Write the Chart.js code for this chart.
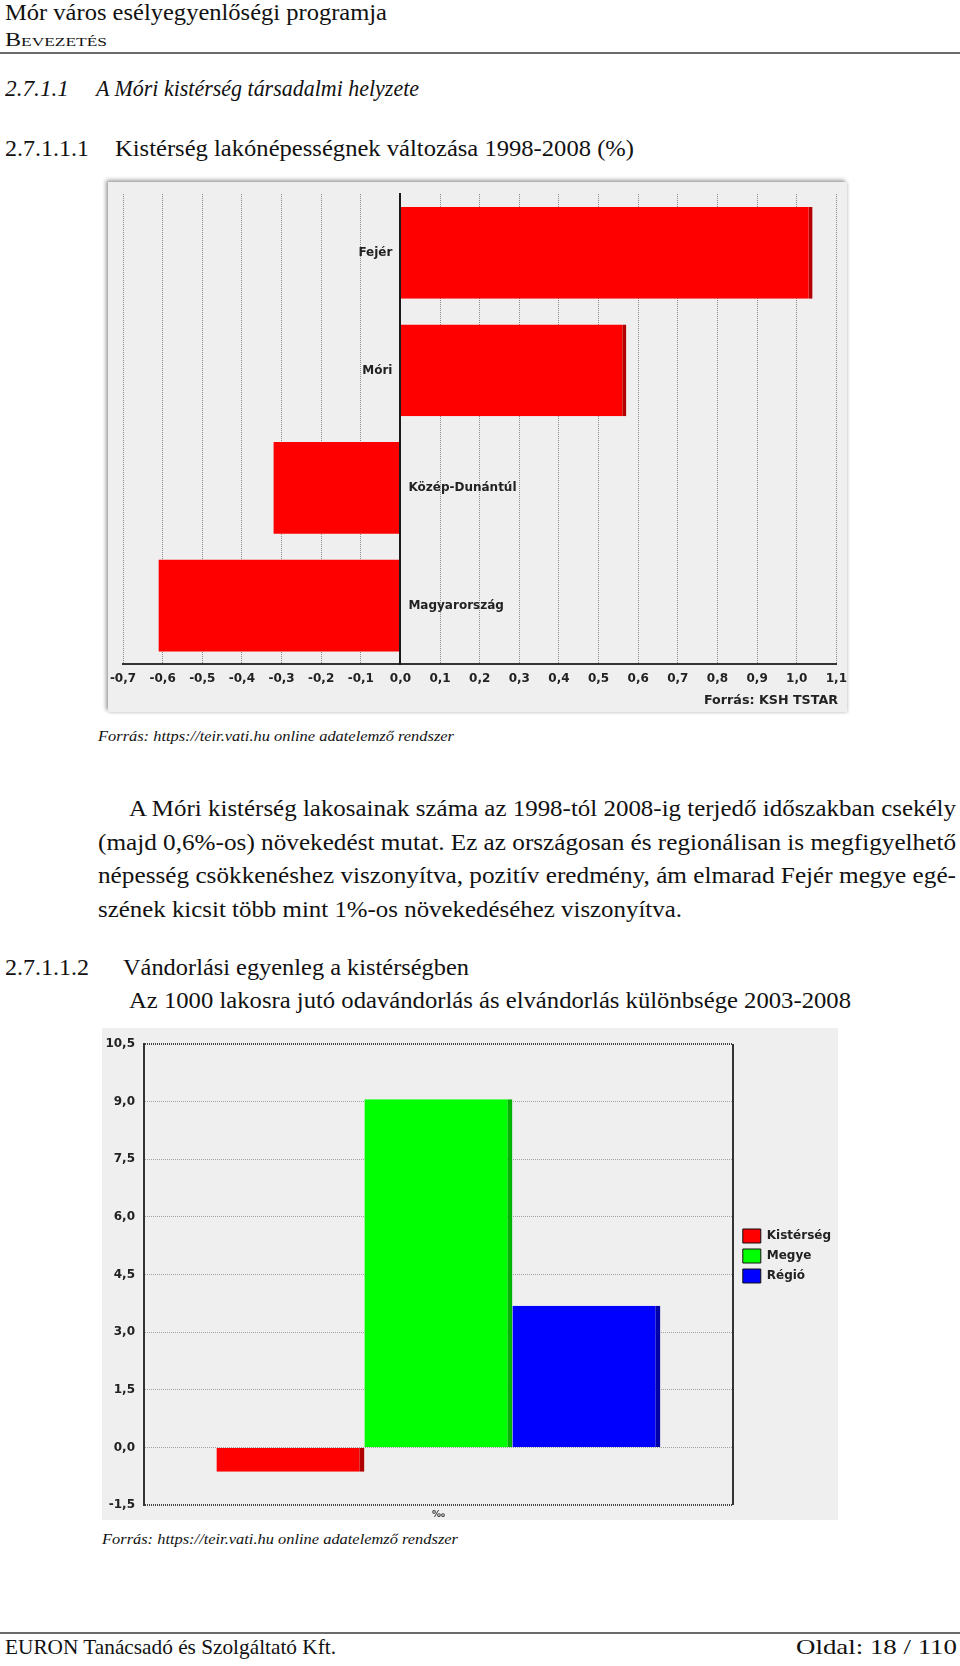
<!DOCTYPE html>
<html>
<head>
<meta charset="utf-8">
<script src="https://cdn.jsdelivr.net/npm/chart.js@4.4.1/dist/chart.umd.min.js"></script>
<style>
html,body{margin:0;padding:0;background:#fff;}
body{width:960px;height:1666px;position:relative;overflow:hidden;font-family:"Liberation Serif","Times New Roman",serif;color:#111;}
.t{position:absolute;white-space:nowrap;transform-origin:0 0;line-height:1.107;}
.i{font-style:italic;}
.rule{position:absolute;left:0;width:960px;height:2px;background:#6a6a6a;}
#box1{position:absolute;left:108px;top:182px;width:739px;height:530px;background:#efefef;
  box-shadow:-2px -2px 4px rgba(0,0,0,0.38), 1px 1px 3px rgba(0,0,0,0.15);}
#box2{position:absolute;left:102px;top:1028px;width:736px;height:492px;background:#efefef;}
canvas{display:block;}
</style>
</head>
<body>
<div class="t" data-x="5" data-b="20.7" data-w="382" data-fs="23">Mór város esélyegyenlőségi programja</div>
<div class="t" data-x="5" data-b="46.7" data-w="102" data-fs="18" style="font-variant:small-caps">Bevezetés</div>
<div class="rule" style="top:52px"></div>

<div class="t i" data-x="5" data-b="97" data-w="64" data-fs="22.5">2.7.1.1</div>
<div class="t i" data-x="96" data-b="97" data-w="323" data-fs="22.5">A Móri kistérség társadalmi helyzete</div>

<div class="t" data-x="5" data-b="157" data-w="84" data-fs="22.5">2.7.1.1.1</div>
<div class="t" data-x="115" data-b="157" data-w="519" data-fs="22.5">Kistérség lakónépességnek változása 1998-2008 (%)</div>

<div id="box1"><canvas id="c1" width="739" height="530"></canvas></div>

<div class="t i" data-x="98" data-b="741" data-w="356" data-fs="15.5">Forrás: https://teir.vati.hu online adatelemző rendszer</div>

<div class="t" data-x="129" data-b="816" data-w="827" data-fs="23.5">A Móri kistérség lakosainak száma az 1998-tól 2008-ig terjedő időszakban csekély</div>
<div class="t" data-x="98" data-b="849.5" data-w="858" data-fs="23.5">(majd 0,6%-os) növekedést mutat. Ez az országosan és regionálisan is megfigyelhető</div>
<div class="t" data-x="98" data-b="883" data-w="858" data-fs="23.5">népesség csökkenéshez viszonyítva, pozitív eredmény, ám elmarad Fejér megye egé-</div>
<div class="t" data-x="98" data-b="916.5" data-w="584" data-fs="23.5">szének kicsit több mint 1%-os növekedéséhez viszonyítva.</div>

<div class="t" data-x="5" data-b="976" data-w="84" data-fs="22.5">2.7.1.1.2</div>
<div class="t" data-x="122.5" data-b="976" data-w="346" data-fs="22.5">Vándorlási egyenleg a kistérségben</div>
<div class="t" data-x="128.6" data-b="1009" data-w="722" data-fs="22.5">Az 1000 lakosra jutó odavándorlás ás elvándorlás különbsége 2003-2008</div>

<div id="box2"><canvas id="c2" width="736" height="492"></canvas></div>

<div class="t i" data-x="102" data-b="1544" data-w="356" data-fs="15.5">Forrás: https://teir.vati.hu online adatelemző rendszer</div>

<div class="rule" style="top:1632px"></div>
<div class="t" data-x="5" data-b="1655" data-w="331" data-fs="21">EURON Tanácsadó és Szolgáltató Kft.</div>
<div class="t" data-x="796" data-b="1655" data-w="161" data-fs="21">Oldal: 18 / 110</div>

<script>
// ---------- data ----------
const popCategories = ['Fejér', 'Móri', 'Közép-Dunántúl', 'Magyarország'];
const popChange = [1.04, 0.57, -0.32, -0.61];
const popAxisMin = -0.7;
const popAxisMax = 1.1;
const popAxisStep = 0.1;
const popSource = 'Forrás: KSH TSTAR';

const migCategories = ['‰'];
const migSeriesNames = ['Kistérség', 'Megye', 'Régió'];
const migValues = [-0.63, 9.06, 3.69];
const migAxisMin = -1.5;
const migAxisMax = 10.5;
const migAxisStep = 1.5;

// ---------- page text placement ----------
document.querySelectorAll('.t').forEach(el => {
  const fs = parseFloat(el.dataset.fs);
  el.style.fontSize = fs + 'px';
  el.style.left = el.dataset.x + 'px';
  el.style.top = (parseFloat(el.dataset.b) - 0.891 * fs) + 'px';
  const w = el.getBoundingClientRect().width;
  const target = parseFloat(el.dataset.w);
  el.style.transform = 'scaleX(' + (target / w) + ')';
});

const fmt = v => (Math.abs(v) < 1e-9 ? 0 : v).toFixed(1).replace('.', ',');
const tickFont = {family: 'DejaVu Sans', size: 12, weight: 'bold'};

// ---------- chart 1 ----------
const catLabels = {
  id: 'catLabels',
  afterDatasetsDraw(chart) {
    const {ctx, scales: {x, y}} = chart;
    const x0 = x.getPixelForValue(0);
    const vals = chart.data.datasets[0].data;
    ctx.save();
    ctx.font = 'bold 12px "DejaVu Sans"';
    ctx.fillStyle = '#222';
    ctx.textBaseline = 'middle';
    chart.data.labels.forEach((lab, i) => {
      const yy = y.getPixelForValue(i);
      if (vals[i] >= 0) { ctx.textAlign = 'right'; ctx.fillText(lab, x0 - 8, yy); }
      else { ctx.textAlign = 'left'; ctx.fillText(lab, x0 + 8, yy); }
    });
    ctx.restore();
  }
};

new Chart(document.getElementById('c1'), {
  type: 'bar',
  data: {
    labels: popCategories,
    datasets: [{
      data: popChange,
      backgroundColor: '#ff0000',
      borderColor: '#b40000',
      borderWidth: c => (c.raw > 0 ? {top: 0, right: 4, bottom: 0, left: 0} : 0),
      borderSkipped: false,
      barPercentage: 0.78,
      categoryPercentage: 1
    }]
  },
  options: {
    indexAxis: 'y',
    responsive: false,
    animation: false,
    events: [],
    layout: {padding: {left: 15, right: 9, top: 12, bottom: 2}},
    plugins: {
      legend: {display: false},
      tooltip: {enabled: false},
      title: {
        display: true, position: 'bottom', align: 'end', text: popSource,
        color: '#222', font: {family: 'DejaVu Sans', size: 12.7, weight: 'bold'},
        padding: {top: 7, bottom: 2}
      }
    },
    scales: {
      x: {
        min: popAxisMin, max: popAxisMax,
        ticks: {stepSize: popAxisStep, maxTicksLimit: 40, autoSkip: false, maxRotation: 0,
                callback: v => fmt(v), padding: 0, color: '#222', font: tickFont},
        grid: {color: '#8a8a8a', lineWidth: 1, drawTicks: true, tickLength: 7, tickColor: 'rgba(0,0,0,0)'},
        border: {display: true, color: '#333', width: 2, dash: [1, 1]}
      },
      y: {
        position: {x: 0},
        ticks: {display: false},
        grid: {display: false, drawTicks: false},
        border: {display: true, color: '#1a1a1a', width: 2, z: 1}
      }
    }
  },
  plugins: [catLabels]
});

// ---------- chart 2 ----------
const migColors = ['#ff0000', '#00ff00', '#0000ff'];
const migSides = ['#b00000', '#00b400', '#0000a8'];

new Chart(document.getElementById('c2'), {
  type: 'bar',
  data: {
    labels: migCategories,
    datasets: migSeriesNames.map((name, i) => ({
      label: name,
      data: [migValues[i]],
      backgroundColor: migColors[i],
      borderColor: migSides[i],
      borderWidth: {top: 0, right: 5, bottom: 0, left: 0},
      borderSkipped: false,
      barPercentage: 1,
      categoryPercentage: 0.754
    }))
  },
  options: {
    responsive: false,
    animation: false,
    events: [],
    layout: {padding: {left: 3.4, right: -3, top: 16, bottom: 0}},
    plugins: {
      tooltip: {enabled: false},
      legend: {
        position: 'right', align: 'start',
        title: {display: true, text: ' ', font: {size: 1}, padding: {top: 177.8, bottom: 0}},
        labels: {
          boxWidth: 18, boxHeight: 14, padding: 6, color: '#222',
          font: {family: 'DejaVu Sans', size: 12, weight: 'bold'},
          generateLabels(chart) {
            const items = Chart.defaults.plugins.legend.labels.generateLabels(chart);
            items.forEach(it => { it.strokeStyle = '#111'; it.lineWidth = 1; });
            return items;
          }
        }
      }
    },
    scales: {
      y: {
        min: migAxisMin, max: migAxisMax,
        ticks: {stepSize: migAxisStep, callback: v => fmt(v), padding: 0, color: '#222', font: tickFont},
        grid: {
          drawTicks: true, tickLength: 9, tickColor: 'rgba(0,0,0,0)',
          color: c => (c.tick && (c.tick.value === migAxisMin || c.tick.value === migAxisMax) ? '#444' : '#a0a0a0'),
          lineWidth: c => (c.tick && (c.tick.value === migAxisMin || c.tick.value === migAxisMax) ? 2 : 1)
        },
        border: {display: true, color: '#333', width: 2, dash: [1, 1]}
      },
      y2: {
        position: 'right', display: true,
        ticks: {display: false},
        grid: {display: false, drawTicks: false},
        border: {display: false},
        afterFit(s) { s.width = 4; }
      },
      x: {
        ticks: {padding: 0, color: '#333', font: {family: 'DejaVu Sans', size: 9, weight: 'bold'}},
        grid: {drawTicks: true, tickLength: 4, tickColor: 'rgba(0,0,0,0)', color: '#333', lineWidth: 2, offset: true},
        border: {display: false}
      }
    }
  }
});
</script>
</body>
</html>
